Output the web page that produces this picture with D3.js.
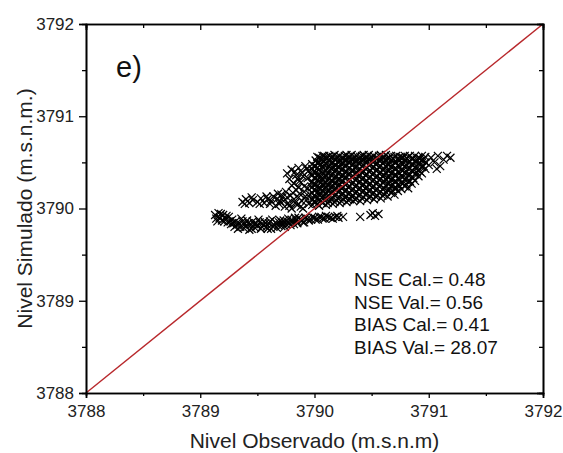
<!DOCTYPE html>
<html>
<head>
<meta charset="utf-8">
<script src="https://cdn.jsdelivr.net/npm/d3@7"></script>
<style>
  body { margin: 0; background: #fff; }
  svg { display: block; font-family: "Liberation Sans", Arial, sans-serif; }
  .axis path, .axis line { stroke: #000; }
  .axis text { fill: #222; font-size: 17px; }
</style>
</head>
<body>
<div class="chart"></div>
<script>
// ticks
var xTicks = [3788, 3789, 3790, 3791, 3792];
var yTicks = [3788, 3789, 3790, 3791, 3792];
var minorTicks = [3788.5, 3789.5, 3790.5, 3791.5];

// estadisticos
var stats = ['NSE Cal.= 0.48', 'NSE Val.= 0.56', 'BIAS Cal.= 0.41', 'BIAS Val.= 28.07'];

// banda inferior (observado, simulado)
var bandaInferior = [
  [3789.13,3789.93],[3789.14,3789.89],[3789.16,3789.95],[3789.17,3789.9],[3789.19,3789.87],[3789.2,3789.93],
  [3789.22,3789.89],[3789.24,3789.85],[3789.25,3789.91],[3789.27,3789.83],[3789.28,3789.88],[3789.3,3789.8],
  [3789.31,3789.86],[3789.33,3789.78],[3789.34,3789.84],[3789.36,3789.89],[3789.38,3789.79],[3789.39,3789.83],
  [3789.41,3789.87],[3789.43,3789.77],[3789.44,3789.82],[3789.46,3789.86],[3789.48,3789.79],[3789.49,3789.84],
  [3789.51,3789.88],[3789.53,3789.78],[3789.55,3789.82],[3789.56,3789.86],[3789.58,3789.8],[3789.6,3789.84],
  [3789.62,3789.78],[3789.63,3789.88],[3789.65,3789.82],[3789.67,3789.79],[3789.69,3789.85],[3789.71,3789.81],
  [3789.73,3789.87],[3789.75,3789.83],[3789.77,3789.89],[3789.79,3789.82],[3789.81,3789.86],[3789.83,3789.9],
  [3789.85,3789.84],[3789.87,3789.88],[3789.9,3789.85],[3789.92,3789.9],[3789.95,3789.87],[3789.98,3789.91],
  [3790.01,3789.88],[3790.04,3789.91],[3790.07,3789.89],[3790.1,3789.92],[3790.14,3789.9],[3790.18,3789.91],
  [3790.21,3789.9],
  [3789.15,3789.86],[3789.18,3789.94],[3789.21,3789.86],[3789.23,3789.92],[3789.26,3789.86],[3789.29,3789.84],
  [3789.32,3789.82],[3789.35,3789.8],[3789.37,3789.86],[3789.4,3789.8],[3789.42,3789.84],[3789.45,3789.78],
  [3789.47,3789.83],[3789.5,3789.81],[3789.52,3789.85],[3789.54,3789.8],[3789.57,3789.84],[3789.59,3789.78],
  [3789.61,3789.86],[3789.64,3789.8],[3789.66,3789.85],[3789.68,3789.82],[3789.7,3789.87],[3789.72,3789.84],
  [3789.74,3789.8],[3789.76,3789.86],[3789.78,3789.84],[3789.8,3789.88],[3789.82,3789.83],[3789.84,3789.87],
  [3789.86,3789.9],[3789.89,3789.87],[3789.91,3789.85],[3789.94,3789.89],[3789.97,3789.88],[3790.0,3789.9],
  [3790.03,3789.88],[3790.06,3789.91],[3790.09,3789.89],[3790.12,3789.91],[3790.16,3789.89],[3790.2,3789.92],
  [3790.25,3789.91],[3790.4,3789.91],[3790.49,3789.93],[3790.51,3789.95],[3790.53,3789.92],[3790.56,3789.94]
];

// brazo medio e izquierda
var brazoMedio = [
  [3789.37,3790.07],[3789.4,3790.1],[3789.43,3790.06],[3789.46,3790.09],[3789.5,3790.07],[3789.53,3790.11],
  [3789.56,3790.06],[3789.59,3790.1],[3789.62,3790.08],[3789.64,3790.13],
  [3789.39,3790.05],[3789.45,3790.12],[3789.52,3790.05],[3789.58,3790.13],[3789.61,3790.05],
  [3789.66,3790.03],[3789.68,3790.16],[3789.7,3790.08],[3789.72,3790.12],[3789.74,3790.02],[3789.75,3790.18],
  [3789.77,3790.06],[3789.79,3790.14],[3789.8,3790.0],[3789.82,3790.1],[3789.84,3790.2],[3789.85,3790.04],
  [3789.87,3790.16],[3789.89,3790.08],[3789.9,3790.0],[3789.92,3790.13],[3789.94,3790.22],[3789.95,3790.05],
  [3789.67,3790.1],[3789.69,3790.05],[3789.71,3790.15],[3789.73,3790.08],[3789.76,3790.12],[3789.78,3790.03],
  [3789.81,3790.17],[3789.83,3790.06],[3789.86,3790.12],[3789.88,3790.02],[3789.91,3790.18],[3789.93,3790.09],
  [3789.96,3790.15],
  [3789.76,3790.38],[3789.78,3790.32],[3789.8,3790.42],[3789.82,3790.27],[3789.84,3790.36],[3789.86,3790.44],
  [3789.87,3790.3],[3789.89,3790.39],[3789.91,3790.24],[3789.92,3790.46],[3789.94,3790.33],[3789.95,3790.41],
  [3789.86,3790.23],[3789.8,3790.25],[3789.97,3790.28],[3789.96,3790.38],[3789.9,3790.35],[3789.88,3790.28],
  [3789.83,3790.4],[3789.85,3790.32],[3789.93,3790.43]
];

// nube principal
var nubePrincipal = [
  [3789.98,3790.04],[3789.98,3790.1],[3789.98,3790.17],[3789.98,3790.23],[3789.98,3790.29],[3789.98,3790.36],[3789.98,3790.43],[3789.98,3790.48],
  [3790.01,3790.07],[3790.01,3790.13],[3790.01,3790.2],[3790.01,3790.26],[3790.01,3790.33],[3790.01,3790.39],[3790.01,3790.46],[3790.01,3790.52],
  [3790.04,3790.03],[3790.04,3790.09],[3790.04,3790.15],[3790.04,3790.22],[3790.04,3790.3],[3790.04,3790.37],[3790.04,3790.42],[3790.04,3790.5],[3790.04,3790.55],
  [3790.07,3790.06],[3790.07,3790.12],[3790.07,3790.19],[3790.07,3790.25],[3790.07,3790.31],[3790.07,3790.38],[3790.07,3790.45],[3790.07,3790.53],[3790.07,3790.57],
  [3790.1,3790.04],[3790.1,3790.1],[3790.1,3790.16],[3790.1,3790.23],[3790.1,3790.28],[3790.1,3790.35],[3790.1,3790.41],[3790.1,3790.48],[3790.1,3790.55],
  [3790.13,3790.08],[3790.13,3790.14],[3790.13,3790.2],[3790.13,3790.27],[3790.13,3790.33],[3790.13,3790.4],[3790.13,3790.46],[3790.13,3790.52],[3790.13,3790.57],
  [3790.16,3790.05],[3790.16,3790.11],[3790.16,3790.18],[3790.16,3790.24],[3790.16,3790.3],[3790.16,3790.37],[3790.16,3790.44],[3790.16,3790.5],[3790.16,3790.56],
  [3790.19,3790.09],[3790.19,3790.15],[3790.19,3790.22],[3790.19,3790.28],[3790.19,3790.35],[3790.19,3790.42],[3790.19,3790.47],[3790.19,3790.54],
  [3790.22,3790.06],[3790.22,3790.12],[3790.22,3790.19],[3790.22,3790.26],[3790.22,3790.32],[3790.22,3790.39],[3790.22,3790.45],[3790.22,3790.52],[3790.22,3790.57],
  [3790.25,3790.1],[3790.25,3790.16],[3790.25,3790.23],[3790.25,3790.3],[3790.25,3790.36],[3790.25,3790.43],[3790.25,3790.49],[3790.25,3790.55],
  [3790.28,3790.07],[3790.28,3790.13],[3790.28,3790.2],[3790.28,3790.27],[3790.28,3790.34],[3790.28,3790.4],[3790.28,3790.47],[3790.28,3790.53],[3790.28,3790.58],
  [3790.31,3790.1],[3790.31,3790.17],[3790.31,3790.24],[3790.31,3790.31],[3790.31,3790.38],[3790.31,3790.44],[3790.31,3790.5],[3790.31,3790.56],
  [3790.34,3790.08],[3790.34,3790.14],[3790.34,3790.21],[3790.34,3790.28],[3790.34,3790.35],[3790.34,3790.41],[3790.34,3790.48],[3790.34,3790.54],
  [3790.37,3790.11],[3790.37,3790.18],[3790.37,3790.25],[3790.37,3790.32],[3790.37,3790.39],[3790.37,3790.46],[3790.37,3790.52],[3790.37,3790.57],
  [3790.4,3790.08],[3790.4,3790.15],[3790.4,3790.22],[3790.4,3790.29],[3790.4,3790.36],[3790.4,3790.43],[3790.4,3790.5],[3790.4,3790.56],
  [3790.43,3790.12],[3790.43,3790.19],[3790.43,3790.26],[3790.43,3790.33],[3790.43,3790.4],[3790.43,3790.47],[3790.43,3790.53],[3790.43,3790.58],
  [3790.46,3790.09],[3790.46,3790.16],[3790.46,3790.23],[3790.46,3790.3],[3790.46,3790.37],[3790.46,3790.44],[3790.46,3790.51],[3790.46,3790.56],
  [3790.49,3790.13],[3790.49,3790.2],[3790.49,3790.27],[3790.49,3790.34],[3790.49,3790.41],[3790.49,3790.48],[3790.49,3790.54],
  [3790.52,3790.1],[3790.52,3790.17],[3790.52,3790.24],[3790.52,3790.31],[3790.52,3790.38],[3790.52,3790.45],[3790.52,3790.52],[3790.52,3790.57],
  [3790.55,3790.14],[3790.55,3790.21],[3790.55,3790.28],[3790.55,3790.35],[3790.55,3790.42],[3790.55,3790.49],[3790.55,3790.55],
  [3790.58,3790.11],[3790.58,3790.18],[3790.58,3790.25],[3790.58,3790.32],[3790.58,3790.39],[3790.58,3790.46],[3790.58,3790.53],[3790.58,3790.58],
  [3790.61,3790.15],[3790.61,3790.22],[3790.61,3790.29],[3790.61,3790.36],[3790.61,3790.43],[3790.61,3790.5],[3790.61,3790.56],
  [3790.64,3790.13],[3790.64,3790.2],[3790.64,3790.27],[3790.64,3790.34],[3790.64,3790.41],[3790.64,3790.48],[3790.64,3790.54],
  [3790.67,3790.17],[3790.67,3790.24],[3790.67,3790.31],[3790.67,3790.38],[3790.67,3790.45],[3790.67,3790.52],[3790.67,3790.57],
  [3790.7,3790.15],[3790.7,3790.22],[3790.7,3790.29],[3790.7,3790.36],[3790.7,3790.43],[3790.7,3790.5],[3790.7,3790.56],
  [3790.73,3790.19],[3790.73,3790.26],[3790.73,3790.33],[3790.73,3790.4],[3790.73,3790.47],[3790.73,3790.54],
  [3790.76,3790.21],[3790.76,3790.28],[3790.76,3790.35],[3790.76,3790.42],[3790.76,3790.49],[3790.76,3790.55],
  [3790.79,3790.24],[3790.79,3790.31],[3790.79,3790.38],[3790.79,3790.45],[3790.79,3790.52],[3790.79,3790.57],
  [3790.82,3790.22],[3790.82,3790.29],[3790.82,3790.36],[3790.82,3790.43],[3790.82,3790.5],[3790.82,3790.56],
  [3790.85,3790.27],[3790.85,3790.34],[3790.85,3790.41],[3790.85,3790.48],[3790.85,3790.54],
  [3790.88,3790.3],[3790.88,3790.37],[3790.88,3790.44],[3790.88,3790.51],[3790.88,3790.57],
  [3790.91,3790.35],[3790.91,3790.42],[3790.91,3790.49],[3790.91,3790.55],
  [3790.94,3790.38],[3790.94,3790.45],[3790.94,3790.52],[3790.94,3790.57],
  [3790.97,3790.43],[3790.97,3790.5],[3790.97,3790.56],
  [3791.0,3790.47],[3791.02,3790.55],[3791.05,3790.5],[3791.07,3790.43],[3791.08,3790.57],[3791.1,3790.46],
  [3791.13,3790.53],[3791.16,3790.57],[3791.19,3790.55]
];

// nube principal, puntos intermedios
var nubeSecundaria = [
  [3789.995,3790.07],[3789.995,3790.14],[3789.995,3790.2],[3789.995,3790.26],[3789.995,3790.33],[3789.995,3790.4],[3789.995,3790.46],
  [3790.025,3790.05],[3790.025,3790.11],[3790.025,3790.17],[3790.025,3790.24],[3790.025,3790.31],[3790.025,3790.35],[3790.025,3790.44],[3790.025,3790.49],[3790.025,3790.56],
  [3790.055,3790.08],[3790.055,3790.16],[3790.055,3790.22],[3790.055,3790.28],[3790.055,3790.34],[3790.055,3790.41],[3790.055,3790.48],[3790.055,3790.54],
  [3790.085,3790.09],[3790.085,3790.14],[3790.085,3790.21],[3790.085,3790.27],[3790.085,3790.34],[3790.085,3790.4],[3790.085,3790.47],[3790.085,3790.51],[3790.085,3790.57],
  [3790.115,3790.06],[3790.115,3790.12],[3790.115,3790.19],[3790.115,3790.25],[3790.115,3790.31],[3790.115,3790.38],[3790.115,3790.44],[3790.115,3790.5],[3790.115,3790.56],
  [3790.145,3790.1],[3790.145,3790.17],[3790.145,3790.23],[3790.145,3790.3],[3790.145,3790.36],[3790.145,3790.43],[3790.145,3790.49],[3790.145,3790.55],
  [3790.175,3790.07],[3790.175,3790.14],[3790.175,3790.21],[3790.175,3790.27],[3790.175,3790.33],[3790.175,3790.4],[3790.175,3790.47],[3790.175,3790.53],[3790.175,3790.58],
  [3790.205,3790.11],[3790.205,3790.18],[3790.205,3790.25],[3790.205,3790.31],[3790.205,3790.38],[3790.205,3790.45],[3790.205,3790.5],[3790.205,3790.56],
  [3790.235,3790.08],[3790.235,3790.15],[3790.235,3790.22],[3790.235,3790.29],[3790.235,3790.35],[3790.235,3790.42],[3790.235,3790.48],[3790.235,3790.54],
  [3790.265,3790.12],[3790.265,3790.19],[3790.265,3790.26],[3790.265,3790.33],[3790.265,3790.39],[3790.265,3790.46],[3790.265,3790.52],[3790.265,3790.57],
  [3790.295,3790.09],[3790.295,3790.16],[3790.295,3790.23],[3790.295,3790.3],[3790.295,3790.37],[3790.295,3790.43],[3790.295,3790.5],[3790.295,3790.55],
  [3790.325,3790.13],[3790.325,3790.2],[3790.325,3790.27],[3790.325,3790.34],[3790.325,3790.41],[3790.325,3790.47],[3790.325,3790.53],[3790.325,3790.58],
  [3790.355,3790.1],[3790.355,3790.17],[3790.355,3790.24],[3790.355,3790.31],[3790.355,3790.37],[3790.355,3790.44],[3790.355,3790.51],[3790.355,3790.56],
  [3790.385,3790.14],[3790.385,3790.21],[3790.385,3790.28],[3790.385,3790.35],[3790.385,3790.42],[3790.385,3790.49],[3790.385,3790.54],
  [3790.415,3790.11],[3790.415,3790.18],[3790.415,3790.25],[3790.415,3790.32],[3790.415,3790.39],[3790.415,3790.46],[3790.415,3790.52],[3790.415,3790.57],
  [3790.445,3790.15],[3790.445,3790.22],[3790.445,3790.29],[3790.445,3790.36],[3790.445,3790.43],[3790.445,3790.5],[3790.445,3790.55],
  [3790.475,3790.12],[3790.475,3790.19],[3790.475,3790.26],[3790.475,3790.33],[3790.475,3790.4],[3790.475,3790.47],[3790.475,3790.53],[3790.475,3790.58],
  [3790.505,3790.16],[3790.505,3790.23],[3790.505,3790.3],[3790.505,3790.37],[3790.505,3790.44],[3790.505,3790.51],[3790.505,3790.56],
  [3790.535,3790.13],[3790.535,3790.2],[3790.535,3790.27],[3790.535,3790.34],[3790.535,3790.41],[3790.535,3790.48],[3790.535,3790.54],
  [3790.565,3790.17],[3790.565,3790.24],[3790.565,3790.31],[3790.565,3790.38],[3790.565,3790.45],[3790.565,3790.52],[3790.565,3790.57],
  [3790.595,3790.14],[3790.595,3790.21],[3790.595,3790.28],[3790.595,3790.35],[3790.595,3790.42],[3790.595,3790.49],[3790.595,3790.55],
  [3790.625,3790.18],[3790.625,3790.25],[3790.625,3790.32],[3790.625,3790.39],[3790.625,3790.46],[3790.625,3790.53],[3790.625,3790.58],
  [3790.655,3790.2],[3790.655,3790.27],[3790.655,3790.34],[3790.655,3790.41],[3790.655,3790.48],[3790.655,3790.55],
  [3790.685,3790.19],[3790.685,3790.26],[3790.685,3790.33],[3790.685,3790.4],[3790.685,3790.47],[3790.685,3790.54],
  [3790.715,3790.22],[3790.715,3790.29],[3790.715,3790.36],[3790.715,3790.43],[3790.715,3790.5],[3790.715,3790.57],
  [3790.745,3790.24],[3790.745,3790.31],[3790.745,3790.38],[3790.745,3790.45],[3790.745,3790.52],[3790.745,3790.56],
  [3790.775,3790.27],[3790.775,3790.34],[3790.775,3790.41],[3790.775,3790.48],[3790.775,3790.55],
  [3790.805,3790.26],[3790.805,3790.33],[3790.805,3790.4],[3790.805,3790.47],[3790.805,3790.54],
  [3790.835,3790.3],[3790.835,3790.37],[3790.835,3790.44],[3790.835,3790.51],[3790.835,3790.57],
  [3790.865,3790.33],[3790.865,3790.4],[3790.865,3790.47],[3790.865,3790.54],
  [3790.895,3790.39],[3790.895,3790.46],[3790.895,3790.53],
  [3790.925,3790.4],[3790.925,3790.47],[3790.925,3790.54],
  [3790.955,3790.46],[3790.955,3790.53]
];

var puntos = bandaInferior.concat(brazoMedio, nubePrincipal, nubeSecundaria);

var width = 563, height = 453;
var margin = { top: 24, right: 20, bottom: 60, left: 86 };
var w = width - margin.left - margin.right;
var h = height - margin.top - margin.bottom;

var svg = d3.select('.chart').append('svg')
  .attr('width', width)
  .attr('height', height);

var g = svg.append('g').attr('transform', 'translate(' + margin.left + ',' + margin.top + ')');

var x = d3.scaleLinear().domain([3788, 3792]).range([0, w]);
var y = d3.scaleLinear().domain([3788, 3792]).range([h, 0]);

// puntos (cruces)
var s = 4;
g.append('g').selectAll('path').data(puntos).enter()
  .append('path')
  .attr('d', function (d) {
    var cx = x(d[0]), cy = y(d[1]);
    return 'M' + (cx - s) + ' ' + (cy - s) + 'L' + (cx + s) + ' ' + (cy + s) +
           'M' + (cx - s) + ' ' + (cy + s) + 'L' + (cx + s) + ' ' + (cy - s);
  })
  .attr('stroke', '#000')
  .attr('stroke-width', 1.2)
  .attr('fill', 'none');

// linea 1:1
g.append('line')
  .attr('x1', x(3788)).attr('y1', y(3788))
  .attr('x2', x(3792)).attr('y2', y(3792))
  .attr('stroke', '#b8282c')
  .attr('stroke-width', 1.4);

// ejes
var fmt = d3.format('d');
g.append('g').attr('class', 'axis').attr('transform', 'translate(0,' + h + ')')
  .call(d3.axisBottom(x).tickValues(xTicks).tickFormat(fmt).tickSize(5).tickPadding(7));
g.append('g').attr('class', 'axis').attr('transform', 'translate(0,' + h + ')')
  .call(d3.axisBottom(x).tickValues(minorTicks).tickFormat('').tickSize(3));
g.append('g').attr('class', 'axis')
  .call(d3.axisLeft(y).tickValues(yTicks).tickFormat(fmt).tickSize(7).tickPadding(5));
g.append('g').attr('class', 'axis')
  .call(d3.axisLeft(y).tickValues(minorTicks).tickFormat('').tickSize(4));
g.append('g').attr('class', 'axis')
  .call(d3.axisTop(x).tickValues(xTicks).tickFormat('').tickSize(-6));
g.append('g').attr('class', 'axis')
  .call(d3.axisTop(x).tickValues(minorTicks).tickFormat('').tickSize(-4));
g.append('g').attr('class', 'axis').attr('transform', 'translate(' + w + ',0)')
  .call(d3.axisRight(y).tickValues(yTicks).tickFormat('').tickSize(-6));
g.append('g').attr('class', 'axis').attr('transform', 'translate(' + w + ',0)')
  .call(d3.axisRight(y).tickValues(minorTicks).tickFormat('').tickSize(-4));
g.selectAll('.axis .domain').attr('stroke-width', 1.6);
g.selectAll('.axis .tick line').attr('stroke-width', 1.3);

// titulos
svg.append('text')
  .attr('x', margin.left + w / 2)
  .attr('y', 448)
  .attr('text-anchor', 'middle')
  .attr('font-size', '21px')
  .attr('fill', '#222')
  .text('Nivel Observado (m.s.n.m)');

svg.append('text')
  .attr('transform', 'translate(32,' + (margin.top + h / 2) + ') rotate(-90)')
  .attr('text-anchor', 'middle')
  .attr('font-size', '21px')
  .attr('fill', '#222')
  .text('Nivel Simulado (m.s.n.m.)');

svg.append('text')
  .attr('x', 116)
  .attr('y', 77)
  .attr('font-size', '29px')
  .attr('fill', '#111')
  .text('e)');

svg.append('g').selectAll('text').data(stats).enter()
  .append('text')
  .attr('x', 354)
  .attr('y', function (d, i) { return 286 + i * 22.7; })
  .attr('font-size', '19px')
  .attr('fill', '#111')
  .text(function (d) { return d; });
</script>
</body>
</html>
